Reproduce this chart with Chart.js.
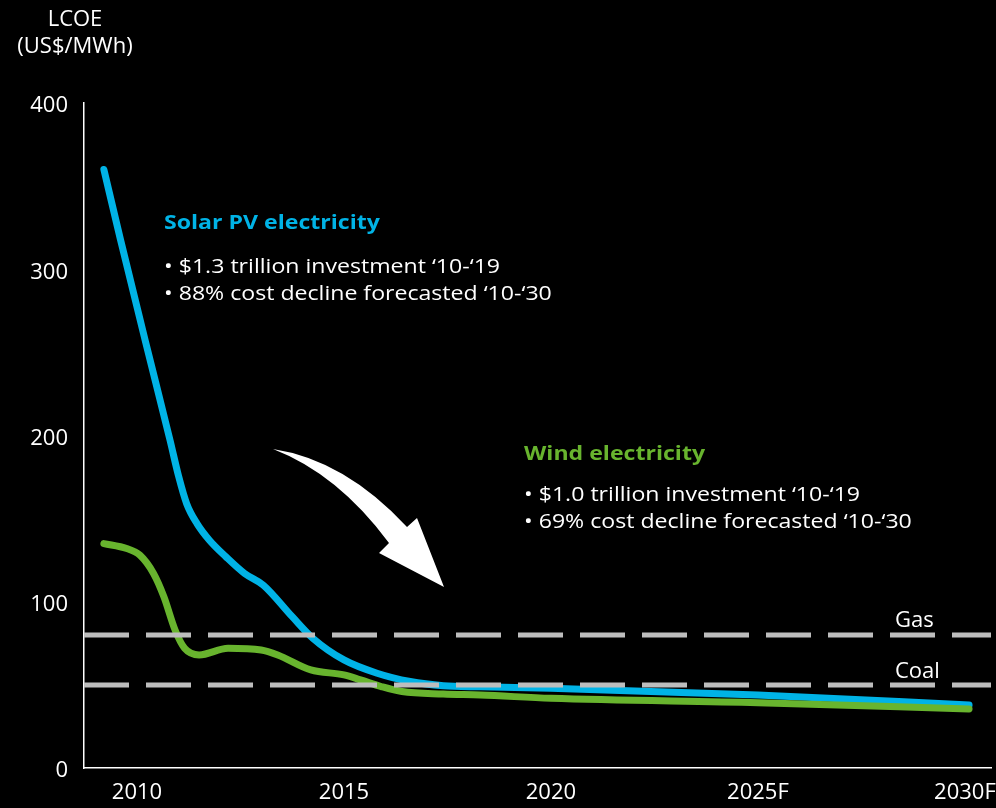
<!DOCTYPE html>
<html lang="en">
<head>
<meta charset="UTF-8">
<title>LCOE - Solar PV and wind</title>
<script src="https://cdn.jsdelivr.net/npm/chart.js"></script>
<style>
  body { margin: 0; background: #000; }
  canvas { display: block; }
</style>
</head>
<body>
<canvas id="lcoe" width="996" height="808"></canvas>
<script>
// values (US$/MWh)
const solarYears = [2009.2, 2009.6, 2010.2, 2010.8, 2011.0, 2011.2, 2011.45, 2011.75, 2012.15, 2012.6, 2013.05, 2013.75, 2014.25, 2015.0, 2015.8, 2016.6, 2017.4, 2018.3, 2020, 2025, 2030.1];
const solarLcoe  = [360, 318, 257, 197, 176, 159, 147, 137, 127, 117, 110, 91, 78, 65, 57, 52, 49.5, 48.8, 47.9, 43.9, 37.9];

const windYears = [2009.2, 2009.75, 2010.07, 2010.4, 2010.65, 2010.92, 2011.15, 2011.5, 2012.2, 2013.0, 2013.4, 2014.2, 2015.0, 2015.4, 2015.9, 2016.4, 2017.4, 2018.3, 2020, 2025, 2030.1];
const windLcoe  = [135, 132, 128, 117, 103, 83, 72, 68, 72, 71, 68, 59, 56, 53, 49, 46, 44.5, 43.9, 41.9, 39.3, 35.5];

const gasLcoe = 80;
const coalLcoe = 50;

const tickYears  = [2010, 2015, 2020, 2025, 2030];
const tickLabels = ['2010', '2015', '2020', '2025F', '2030F'];

const xMin = 2008.72;
const xMax = 2030.63;

const solarColor = '#00b3e6';
const windColor = '#68b42e';
const dashColor = '#bdbdbd';
const FONT = "'Open Sans', sans-serif";

function toPoints(xs, ys) {
    return xs.map((x, i) => ({ x: x, y: ys[i] }));
}

// the callout text in the reference is a little wider than normal
function wideText(ctx, text, x, y) {
    ctx.save();
    ctx.translate(x, y);
    ctx.scale(1.155, 1);
    ctx.fillText(text, 0, 0);
    ctx.restore();
}

const annotations = {
    id: 'annotations',
    afterDatasetsDraw(chart) {
        const ctx = chart.ctx;
        const y = chart.scales.y;
        ctx.save();

        // axis title
        ctx.fillStyle = '#ffffff';
        ctx.font = '22px ' + FONT;
        ctx.textAlign = 'center';
        ctx.textBaseline = 'alphabetic';
        ctx.fillText('LCOE', 75, 26);
        ctx.fillText('(US$/MWh)', 75, 53);

        // gas / coal labels
        ctx.textAlign = 'left';
        ctx.fillText('Gas', 895, y.getPixelForValue(gasLcoe) - 8);
        ctx.fillText('Coal', 895, y.getPixelForValue(coalLcoe) - 7);

        // solar text
        ctx.font = 'bold 20px ' + FONT;
        ctx.fillStyle = solarColor;
        wideText(ctx, 'Solar PV electricity', 164, 229);
        ctx.font = '20px ' + FONT;
        ctx.fillStyle = '#ffffff';
        wideText(ctx, '\u2022 $1.3 trillion investment \u201810-\u201819', 164, 273);
        wideText(ctx, '\u2022 88% cost decline forecasted \u201810-\u201830', 164, 300);

        // wind text
        ctx.font = 'bold 20px ' + FONT;
        ctx.fillStyle = windColor;
        wideText(ctx, 'Wind electricity', 524, 460);
        ctx.font = '20px ' + FONT;
        ctx.fillStyle = '#ffffff';
        wideText(ctx, '\u2022 $1.0 trillion investment \u201810-\u201819', 524, 501);
        wideText(ctx, '\u2022 69% cost decline forecasted \u201810-\u201830', 524, 528);

        // curved arrow
        ctx.beginPath();
        ctx.moveTo(273, 449);
        ctx.quadraticCurveTo(345, 460, 407, 527);
        ctx.lineTo(417, 518);
        ctx.lineTo(444, 587);
        ctx.lineTo(379, 553);
        ctx.lineTo(389, 543);
        ctx.quadraticCurveTo(338, 474, 273, 449);
        ctx.closePath();
        ctx.fillStyle = '#ffffff';
        ctx.fill();

        ctx.restore();
    }
};

const ctx = document.getElementById('lcoe').getContext('2d');

const chart = new Chart(ctx, {
    type: 'line',
    data: {
        datasets: [
            {
                label: 'Gas',
                data: toPoints([xMin, xMax], [gasLcoe, gasLcoe]),
                borderColor: dashColor,
                borderWidth: 5,
                borderDash: [45, 17],
                borderCapStyle: 'butt',
                pointRadius: 0,
                order: 0
            },
            {
                label: 'Coal',
                data: toPoints([xMin, xMax], [coalLcoe, coalLcoe]),
                borderColor: dashColor,
                borderWidth: 5,
                borderDash: [45, 17],
                borderCapStyle: 'butt',
                pointRadius: 0,
                order: 0
            },
            {
                label: 'Wind electricity',
                data: toPoints(windYears, windLcoe),
                borderColor: windColor,
                borderWidth: 7,
                borderCapStyle: 'round',
                borderJoinStyle: 'round',
                cubicInterpolationMode: 'monotone',
                pointRadius: 0,
                order: 1
            },
            {
                label: 'Solar PV electricity',
                data: toPoints(solarYears, solarLcoe),
                borderColor: solarColor,
                borderWidth: 7,
                borderCapStyle: 'round',
                borderJoinStyle: 'round',
                cubicInterpolationMode: 'monotone',
                pointRadius: 0,
                order: 2
            }
        ]
    },
    options: {
        responsive: false,
        animation: false,
        layout: { padding: { top: 103, right: 5, left: 0, bottom: 0 } },
        plugins: {
            legend: { display: false },
            tooltip: { enabled: false }
        },
        scales: {
            x: {
                type: 'linear',
                min: xMin,
                max: xMax,
                grid: { display: false, drawTicks: false },
                border: { display: true, color: '#ffffff', width: 1.5 },
                afterBuildTicks: (scale) => {
                    scale.ticks = tickYears.map(v => ({ value: v }));
                },
                afterFit: (scale) => {
                    scale.height = 40;
                    scale.paddingLeft = 0;
                    scale.paddingRight = 0;
                },
                ticks: {
                    color: '#ffffff',
                    font: { family: FONT, size: 22 },
                    padding: 12,
                    maxRotation: 0,
                    autoSkip: false,
                    callback: (value) => tickLabels[tickYears.indexOf(value)]
                }
            },
            y: {
                min: 0,
                max: 400,
                grid: { display: false, drawTicks: false },
                border: { display: true, color: '#ffffff', width: 1.5 },
                afterFit: (scale) => {
                    scale.width = 84;
                    scale.paddingTop = 0;
                    scale.paddingBottom = 0;
                },
                ticks: {
                    stepSize: 100,
                    color: '#ffffff',
                    font: { family: FONT, size: 22 },
                    padding: 16,
                    labelOffset: 3
                }
            }
        }
    },
    plugins: [annotations]
});
</script>
</body>
</html>
